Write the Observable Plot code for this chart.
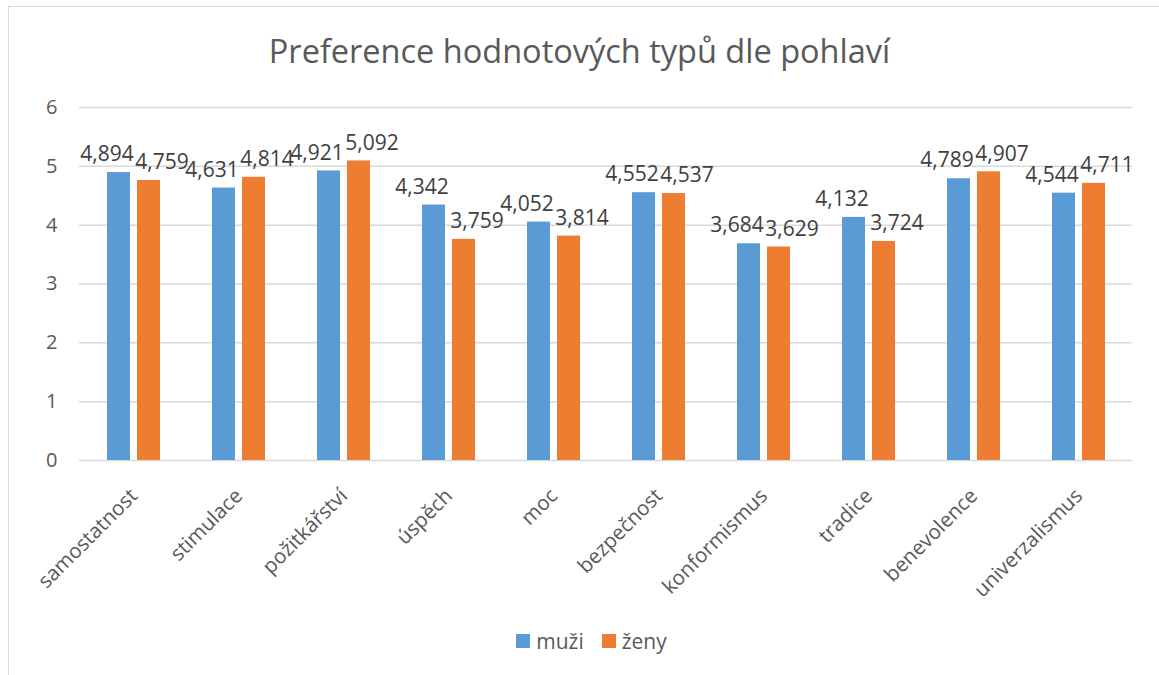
<!DOCTYPE html>
<html>
<head>
<meta charset="utf-8">
<script src="https://cdn.jsdelivr.net/npm/d3@7"></script>
<script src="https://cdn.jsdelivr.net/npm/@observablehq/plot@0.6"></script>
<style>
  html, body { margin: 0; padding: 0; background: #fff; width: 1159px; height: 675px; overflow: hidden; }
  body { position: relative; font-family: "Open Sans", sans-serif; }
  #frame { position: absolute; left: 8px; top: 6px; width: 1200px; height: 700px; border-left: 1.5px solid #d9d9d9; border-top: 1.5px solid #d9d9d9; }
  #title { position: absolute; left: 0; top: 28px; width: 1159px; text-align: center; font-size: 32.5px; color: #595959; }
  #chart { position: absolute; left: 0; top: 80px; }
  #legend { position: absolute; left: 12px; top: 627px; width: 1159px; display: flex; justify-content: center; align-items: center; font-size: 21px; color: #595959; }
  .sw { display: inline-block; width: 14px; height: 14px; margin-right: 6px; }
  .item { display: flex; align-items: center; margin: 0 9px; }
</style>
</head>
<body>
<div id="frame"></div>
<div id="title">Preference hodnotových typů dle pohlaví</div>
<div id="chart"></div>
<div id="legend"></div>
<script>
const categories = ["samostatnost", "stimulace", "požitkářství", "úspěch", "moc", "bezpečnost", "konformismus", "tradice", "benevolence", "univerzalismus"];
const seriesNames = ["muži", "ženy"];
const muzi = [4.894, 4.631, 4.921, 4.342, 4.052, 4.552, 3.684, 4.132, 4.789, 4.544];
const zeny = [4.759, 4.814, 5.092, 3.759, 3.814, 4.537, 3.629, 3.724, 4.907, 4.711];
const yTicks = [0, 1, 2, 3, 4, 5, 6];
const colors = ["#5B9BD5", "#ED7D31"];

const dataM = categories.map((c, i) => ({cat: c, value: muzi[i]}));
const dataZ = categories.map((c, i) => ({cat: c, value: zeny[i]}));
const fmt = d => d.value.toFixed(3).replace(".", ",");

const chart = Plot.plot({
  width: 1159,
  height: 530,
  marginLeft: 79,
  marginRight: 27,
  marginTop: 27,
  marginBottom: 150,
  style: {fontFamily: "Open Sans, sans-serif", color: "#595959", background: "transparent"},
  x: {domain: categories, padding: 0, label: null},
  y: {domain: [0, 6], label: null},
  marks: [
    Plot.ruleY(yTicks, {stroke: "#d9d9d9", strokeWidth: 1.5}),
    Plot.barY(dataM, {x: "cat", y: "value", fill: colors[0], insetLeft: 26, insetRight: 56}),
    Plot.barY(dataZ, {x: "cat", y: "value", fill: colors[1], insetLeft: 56, insetRight: 26}),
    Plot.text(dataM, {x: "cat", y: "value", text: fmt, dx: -27, dy: -18, fontSize: 21, fill: "#404040"}),
    Plot.text(dataZ, {x: "cat", y: "value", text: fmt, dx: 28, dy: -18, fontSize: 21, fill: "#404040"}),
    Plot.axisY({ticks: yTicks, tickSize: 0, tickPadding: 22, fontSize: 20, tickFormat: d => String(d), label: null}),
    Plot.axisX({tickSize: 0, tickRotate: -45, tickPadding: 32, fontSize: 20.5, label: null})
  ]
});
document.getElementById("chart").appendChild(chart);

const legend = document.getElementById("legend");
seriesNames.forEach((name, i) => {
  const item = document.createElement("div");
  item.className = "item";
  const sw = document.createElement("span");
  sw.className = "sw";
  sw.style.background = colors[i];
  const t = document.createElement("span");
  t.textContent = name;
  item.appendChild(sw);
  item.appendChild(t);
  legend.appendChild(item);
});
</script>
</body>
</html>
